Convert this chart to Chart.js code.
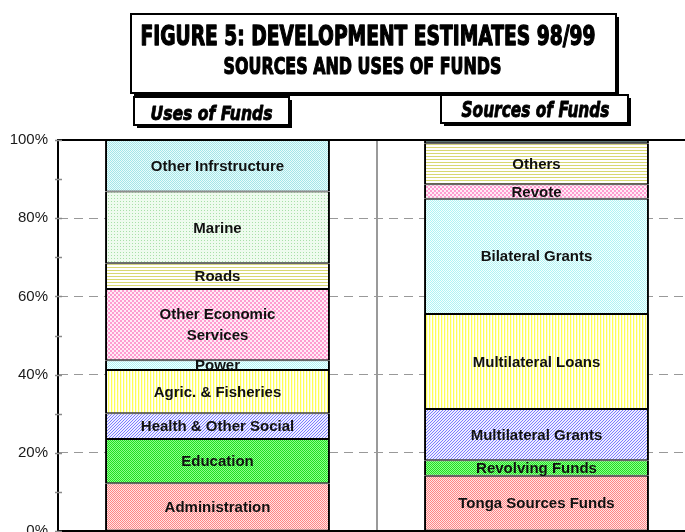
<!DOCTYPE html>
<html><head><meta charset="utf-8">
<script src="https://cdn.jsdelivr.net/npm/chart.js@4.4.1/dist/chart.umd.min.js"></script>
<style>
html,body{margin:0;padding:0;overflow:hidden;background:#fff;width:685px;height:532px;}
#wrap{position:absolute;left:0;top:0;width:696px;height:551px;}
canvas{display:block;}
</style></head><body>
<div id="wrap"><canvas id="c" width="696" height="551"></canvas></div>
<script>
// ---- data ----
const categories = ['Uses of Funds', 'Sources of Funds'];
const titleLines = ['FIGURE 5: DEVELOPMENT ESTIMATES 98/99', 'SOURCES AND USES OF FUNDS'];
const usesLabels = ['Administration', 'Education', 'Health & Other Social', 'Agric. & Fisheries', 'Power',
  'Other Economic Services', 'Roads', 'Marine', 'Other Infrstructure'];
const usesValues = [12.2, 11.3, 6.6, 11.1, 2.5, 18.2, 6.6, 18.3, 13.2];
const sourcesLabels = ['Tonga Sources Funds', 'Revolving Funds', 'Multilateral Grants', 'Multilateral Loans',
  'Bilateral Grants', 'Revote', 'Others', ''];
const sourcesValues = [14.1, 4.0, 13.1, 24.3, 29.5, 3.7, 10.5, 0.8];
const yTickStep = 10;
const yLabelStep = 20;

// ---- fill patterns ----
const canvas = document.getElementById('c');
const mainCtx = canvas.getContext('2d');
function makePattern(w, h, fn) {
  const c = document.createElement('canvas'); c.width = w; c.height = h;
  const g = c.getContext('2d');
  for (let y = 0; y < h; y++) for (let x = 0; x < w; x++) { g.fillStyle = fn(x, y); g.fillRect(x, y, 1, 1); }
  return mainCtx.createPattern(c, 'repeat');
}
const checker = (a, b) => makePattern(2, 2, (x, y) => ((x + y) % 2 ? b : a));
const patterns = {
  red: checker('#ff8585', '#ffe4e4'),
  green: checker('#22dd22', '#8cff8c'),
  blue: makePattern(3, 3, (x, y) => ((x + y) % 3 === 0 ? '#7c7cff' : '#eeeeff')),
  yellowV: makePattern(3, 1, (x) => (x === 0 ? '#ffff55' : (x === 1 ? '#ffffd4' : '#ffffff'))),
  yellowH: makePattern(1, 3, (x, y) => (y === 0 ? '#d8d870' : '#ffffff')),
  cyan: checker('#b0f4f4', '#f6ffff'),
  pink: makePattern(4, 4, (x, y) => ((Math.floor(x / 2) + Math.floor(y / 2)) % 2 ? '#ffecf6' : '#ff9cd0')),
  marine: makePattern(3, 3, (x, y) => (x === 0 && y === 0 ? '#a8e0a8' : '#eefbee')),
  infra: checker('#a4e6e8', '#eafcfc'),
  slate: '#5a7272'
};
const usesStyles = ['red', 'green', 'blue', 'yellowV', 'cyan', 'pink', 'yellowH', 'marine', 'infra'];
const sourcesStyles = ['red', 'green', 'blue', 'yellowV', 'cyan', 'pink', 'yellowH', 'slate'];

const datasets = [];
usesValues.forEach((v, i) => datasets.push({ label: usesLabels[i], data: [v, null], backgroundColor: patterns[usesStyles[i]] }));
sourcesValues.forEach((v, i) => datasets.push({ label: sourcesLabels[i], data: [null, v], backgroundColor: patterns[sourcesStyles[i]] }));
datasets.forEach(d => { d.borderColor = '#000'; d.borderWidth = { top: 1, bottom: 1, left: 2, right: 2 }; d.borderSkipped = false; d.categoryPercentage = 1; d.barPercentage = 0.705; });

// ---- plugins ----
function wrap(ctx, text, maxW) {
  const words = text.split(' '); const lines = []; let cur = '';
  words.forEach(w => {
    const t = cur ? cur + ' ' + w : w;
    if (cur && ctx.measureText(t).width > maxW) { lines.push(cur); cur = w; } else cur = t;
  });
  if (cur) lines.push(cur);
  return lines;
}
const segLabels = {
  id: 'segLabels',
  afterDatasetsDraw(chart) {
    const ctx = chart.ctx; ctx.save();
    ctx.font = 'bold 15px "Liberation Sans", Arial, sans-serif';
    ctx.fillStyle = '#111'; ctx.textAlign = 'center'; ctx.textBaseline = 'middle';
    chart.data.datasets.forEach((ds, di) => {
      const meta = chart.getDatasetMeta(di);
      meta.data.forEach((el, idx) => {
        if (ds.data[idx] == null || !ds.label) return;
        const p = el.getProps(['x', 'y', 'base'], true);
        const cy = (p.y + p.base) / 2 + 1;
        const lines = wrap(ctx, ds.label, 180);
        lines.forEach((ln, k) => ctx.fillText(ln, p.x, cy + (k - (lines.length - 1) / 2) * 21));
      });
    });
    ctx.restore();
  }
};
const tickMarks = {
  id: 'tickMarks',
  afterDatasetsDraw(chart) {
    const s = chart.scales.y, ctx = chart.ctx, left = chart.chartArea.left;
    ctx.save(); ctx.strokeStyle = '#8a8a8a'; ctx.lineWidth = 1.5;
    s.ticks.forEach(t => {
      const y = Math.round(s.getPixelForValue(t.value)) + 0.5;
      ctx.beginPath(); ctx.moveTo(left - 3, y); ctx.lineTo(left + 4, y); ctx.stroke();
    });
    ctx.restore();
  }
};
function box(ctx, x, y, w, h) {
  ctx.fillStyle = '#000'; ctx.fillRect(x + 3, y + 3, w, h);
  ctx.fillStyle = '#fff'; ctx.fillRect(x, y, w, h);
  ctx.lineWidth = 2; ctx.strokeStyle = '#000'; ctx.strokeRect(x, y, w, h);
}
function heavyText(ctx, text, x, y, maxW, sw) {
  ctx.lineWidth = sw; ctx.lineJoin = 'round';
  ctx.strokeText(text, x, y, maxW);
  ctx.fillText(text, x, y, maxW);
}
const titleBoxes = {
  id: 'titleBoxes',
  afterDraw(chart) {
    const ctx = chart.ctx; ctx.save();
    box(ctx, 131, 14, 485, 79);
    box(ctx, 134, 97, 155, 28);
    box(ctx, 441, 95, 187, 28);
    ctx.fillStyle = '#000'; ctx.strokeStyle = '#000'; ctx.textAlign = 'center'; ctx.textBaseline = 'alphabetic';
    ctx.font = 'bold 27px "DejaVu Sans", sans-serif';
    heavyText(ctx, titleLines[0], 368, 45, 455, 1.4);
    ctx.font = 'bold 23px "DejaVu Sans", sans-serif';
    heavyText(ctx, titleLines[1], 362.5, 74, 278, 1.2);
    ctx.font = 'italic bold 20px "DejaVu Sans", sans-serif';
    heavyText(ctx, categories[0], 211.5, 119.5, 122, 0.9);
    ctx.font = 'italic bold 21px "DejaVu Sans", sans-serif';
    heavyText(ctx, categories[1], 535.5, 117, 148, 0.9);
    ctx.restore();
  }
};

new Chart(canvas, {
  type: 'bar',
  data: { labels: categories, datasets },
  plugins: [segLabels, tickMarks, titleBoxes],
  options: {
    responsive: false, animation: false,
    layout: { padding: { top: 140, left: 0, right: 0, bottom: 0 } },
    plugins: { legend: { display: false }, tooltip: { enabled: false }, title: { display: false } },
    scales: {
      x: {
        stacked: true, offset: true,
        ticks: { display: false },
        grid: { offset: true, drawTicks: false, lineWidth: 2, color: c => (c.index === 1 ? '#9a9a9a' : 'rgba(0,0,0,0)') },
        border: { color: '#000', width: 2 },
        afterFit: s => { s.height = 20; }
      },
      y: {
        stacked: true, min: 0, max: 100,
        ticks: {
          stepSize: yTickStep, padding: 10, color: '#1a1a1a',
          font: { family: '"Liberation Sans", Arial, sans-serif', size: 15 },
          callback: v => (v % yLabelStep === 0 ? v + '%' : '')
        },
        grid: {
          drawTicks: false,
          color: c => { const v = c.tick ? c.tick.value : -1; if (v === 100) return '#000'; if (v > 0 && v % yLabelStep === 0) return '#999'; return 'rgba(0,0,0,0)'; },
          lineWidth: c => (c.tick && c.tick.value === 100 ? 2 : 1)
        },
        border: {
          color: '#000', width: 2,
          dash: c => { const v = c.tick ? c.tick.value : -1; return (v > 0 && v < 100 && v % yLabelStep === 0) ? [9, 6] : []; }
        },
        afterFit: s => { s.width = 58; }
      }
    }
  }
});
</script>
</body></html>
